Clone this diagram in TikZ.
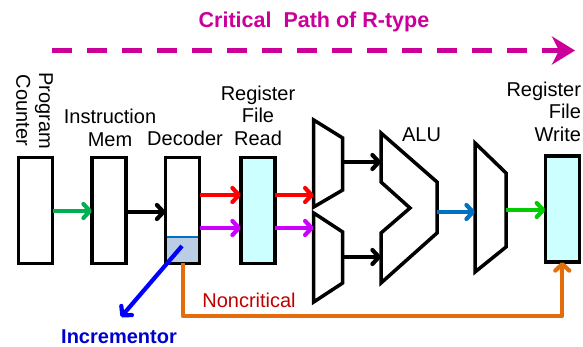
\documentclass[tikz,border=0pt]{standalone}
\usepackage{fontspec}
\setmainfont{Liberation Sans}
\usetikzlibrary{arrows.meta}

\definecolor{pathmagenta}{RGB}{204,0,153}
\definecolor{regcyan}{RGB}{204,255,255}
\definecolor{decfill}{RGB}{185,205,229}
\definecolor{decline}{RGB}{0,112,192}
\definecolor{wirered}{RGB}{255,0,0}
\definecolor{wirepurple}{RGB}{204,0,255}
\definecolor{wiregreen}{RGB}{0,176,80}
\definecolor{wirelime}{RGB}{0,204,0}
\definecolor{wireblue}{RGB}{0,112,192}
\definecolor{wireorange}{RGB}{228,108,10}
\definecolor{incblue}{RGB}{0,0,255}
\definecolor{inctext}{RGB}{0,0,204}
\definecolor{noncrit}{RGB}{192,0,0}

\begin{document}
\begin{tikzpicture}[x=1pt,y=-1pt,
  unit/.style={draw,line width=3.5pt,minimum width=34pt,minimum height=106pt,
    inner sep=0pt,outer sep=0pt},
  regfile/.style={unit,fill=regcyan},
  block/.style={draw,line width=3.5pt,line join=miter,fill=white},
  wire/.style={line width=4.2pt,-{Straight Barb[length=6.5pt,width=14pt,round]}},
  lbl/.style={font=\fontsize{20}{22.7}\selectfont,inner sep=0pt,outer sep=0pt},
]
\useasboundingbox (0,0) rectangle (583,347);

% title and critical-path arrow
\node[lbl,font=\fontsize{21.5}{24}\selectfont\bfseries,text=pathmagenta] (title)
  at (314,22) {Critical\ \ Path of R-type};
\coordinate (cpstart) at (52,50.5);
\coordinate (cpend) at (575,50.5);
\draw[pathmagenta,line width=5pt,dash pattern=on 20pt off 15pt,
  -{Stealth[length=23pt,width=28pt,inset=7pt]}] (cpstart) -- (cpend);

% sequential blocks
\node[unit] (pc) at (35.7,210.5) {};
\node[unit] (imem) at (109,210.5) {};
\fill[decfill] (165.3,237) rectangle (199.7,263.4);
\draw[decline,line width=1.5pt] (165.3,237) -- (199.7,237);
\node[unit] (dec) at (182.5,210.5) {};
\node[regfile] (rfr) at (258,210.5) {};
\node[regfile] (rfw) at (562.3,209) {};

% operand muxes, ALU and result mux
\draw[block] (313.7,120) -- (342.7,138) -- (342.7,190) -- (313.7,207) -- cycle;
\draw[block] (313.7,213) -- (342.7,232) -- (342.7,283) -- (313.7,302) -- cycle;
\draw[block] (381,133) -- (437,182) -- (437,233) -- (381,283) -- (381,233)
  -- (410,208) -- (381,182) -- cycle;
\draw[block] (475,143) -- (506,173) -- (506,247) -- (475,272) -- cycle;

% ports
\coordinate (m1a) at (313.7,195);
\coordinate (m2a) at (313.7,228);
\coordinate (m1o) at (342.7,162);
\coordinate (m2o) at (342.7,257);
\coordinate (alua) at (381,162);
\coordinate (alub) at (381,257);
\coordinate (aluo) at (437,212);
\coordinate (m3a) at (475,212);
\coordinate (m3o) at (506,210);
\coordinate (decout) at (183,263.4);
\coordinate (incstart) at (182,246);
\coordinate (inctip) at (121,317);

% labels
\node[lbl,align=center,rotate=-90] (pclbl) at (34.5,110.5) {Program\\Counter};
\node[lbl,align=center] (imlbl) at (110,128) {Instruction\\Mem};
\node[lbl] (declbl) at (185,138.7) {Decoder};
\node[lbl,align=center] (rfrlbl) at (258,115.8) {Register\\File\\Read};
\node[lbl,align=right,anchor=east] (rfwlbl) at (581,111.6) {Register\\File\\Write};
\node[lbl] (alulbl) at (421.5,134.5) {ALU};
\node[lbl,text=noncrit] (nclbl) at (249,300.8) {Noncritical};
\node[lbl,font=\fontsize{20}{22.7}\selectfont\bfseries,text=inctext] (inclbl)
  at (119,337) {Incrementor};

% connectors
\draw[wire,wiregreen] (pc.east |- 0,211) -- (imem.west |- 0,211);
\draw[wire,black] (imem.east |- 0,212) -- (dec.west |- 0,212);
\draw[wire,wirered] (dec.east |- 0,195) -- (rfr.west |- 0,195);
\draw[wire,wirepurple] (dec.east |- 0,228) -- (rfr.west |- 0,228);
\draw[wire,wirered] (rfr.east |- m1a) -- (m1a);
\draw[wire,wirepurple] (rfr.east |- m2a) -- (m2a);
\draw[wire,black] (m1o) -- (alua);
\draw[wire,black] (m2o) -- (alub);
\draw[wire,wireblue] (aluo) -- (m3a);
\draw[wire,wirelime] (m3o) -- (rfw.west |- m3o);
\draw[wire,wireorange,line join=round] (decout) |- (rfw.south |- 0,316) -- (rfw.south);
\draw[wire,incblue] (incstart) -- (inctip);
\end{tikzpicture}
\end{document}
